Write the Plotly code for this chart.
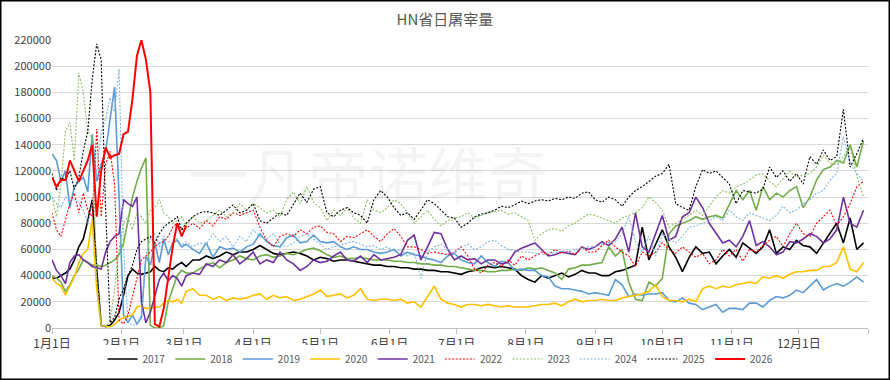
import plotly.graph_objects as go

# ---- x grid (day of year, 0 = 1月1日) ----
days_a = list(range(0, 61, 2))      # Jan-Feb, every 2 days
days_b = list(range(63, 364, 3))    # rest of year, every 3 days
days = days_a + days_b

tick_days = [0, 31, 59, 90, 120, 151, 181, 212, 243, 273, 304, 334, 365]
tick_labels = ["1月1日", "2月1日", "3月1日", "4月1日", "5月1日", "6月1日",
               "7月1日", "8月1日", "9月1日", "10月1日", "11月1日", "12月1日", ""]

y2017 = [38000, 38000, 40000, 42000, 45000, 52000, 62000, 68000, 82000, 98000,
         45000, 2000, 1000, 2000, 6000, 12000, 25000, 40000, 45000, 42000,
         41000, 42000, 43000, 47000, 44000, 43000, 46000, 45000, 48000, 50000,
         47000,
         52000, 52000, 55000, 53000, 55000, 58000, 56000, 58000, 58000, 60000,
         63000, 60000, 57000, 56000, 57000, 58000, 57000, 55000, 52000, 54000,
         53000, 51000, 52000, 52000, 51000, 50000, 49000, 48000, 48000, 47000,
         47000, 46000, 46000, 45000, 45000, 44000, 44000, 43000, 43000, 42000,
         41000, 43000, 44000, 46000, 47000, 46000, 47000, 46000, 45000, 40000,
         37000, 35000, 40000, 38000, 40000, 42000, 39000, 41000, 44000, 42000,
         42000, 40000, 40000, 43000, 44000, 46000, 48000, 77000, 52000, 64000,
         75000, 62000, 54000, 43000, 54000, 62000, 57000, 58000, 49000, 55000,
         60000, 54000, 65000, 61000, 57000, 62000, 75000, 57000, 62000, 60000,
         67000, 63000, 62000, 57000, 65000, 72000, 80000, 65000, 84000, 60000,
         65000]

y2018 = [40000, 38000, 35000, 28000, 33000, 40000, 45000, 52000, 50000, 48000,
         48000, 47000, 48000, 50000, 52000, 56000, 65000, 82000, 100000, 112000,
         122000, 130000, 2000, 0, 0, 2000, 20000, 30000, 40000, 44000,
         42000,
         42000, 45000, 48000, 50000, 46000, 50000, 52000, 55000, 53000, 52000,
         55000, 56000, 54000, 55000, 57000, 56000, 58000, 60000, 61000, 59000,
         56000, 54000, 55000, 53000, 53000, 54000, 53000, 52000, 52000, 52000,
         51000, 51000, 50000, 50000, 49000, 49000, 48000, 48000, 47000, 47000,
         46000, 45000, 44000, 44000, 43000, 43000, 44000, 44000, 45000, 44000,
         46000, 45000, 46000, 44000, 42000, 37000, 45000, 46000, 48000, 48000,
         49000, 50000, 62000, 55000, 60000, 35000, 22000, 21000, 35000, 32000,
         38000, 72000, 78000, 80000, 82000, 85000, 83000, 85000, 86000, 84000,
         95000, 105000, 98000, 105000, 90000, 108000, 98000, 103000, 100000, 105000,
         108000, 92000, 100000, 113000, 121000, 123000, 128000, 126000, 140000, 123000,
         143000]

y2019 = [133000, 128000, 112000, 120000, 92000, 108000, 112000, 115000, 104000, 148000,
         112000, 125000, 135000, 160000, 184000, 100000, 10000, 4000, 10000, 3000,
         8000, 55000, 48000, 65000, 50000, 68000, 56000, 65000, 67000, 62000,
         64000,
         60000, 57000, 65000, 54000, 62000, 60000, 61000, 58000, 62000, 64000,
         72000, 66000, 63000, 62000, 69000, 71000, 65000, 66000, 71000, 66000,
         65000, 66000, 62000, 60000, 62000, 60000, 60000, 58000, 57000, 58000,
         60000, 55000, 58000, 56000, 55000, 53000, 52000, 50000, 55000, 57000,
         52000, 50000, 49000, 55000, 50000, 47000, 51000, 50000, 44000, 45000,
         44000, 44000, 40000, 39000, 32000, 30000, 30000, 29000, 28000, 26000,
         27000, 26000, 25000, 37000, 33000, 24000, 26000, 25000, 26000, 26000,
         27000, 21000, 20000, 23000, 19000, 18000, 14000, 16000, 18000, 12000,
         15000, 15000, 14000, 19000, 19000, 16000, 21000, 24000, 23000, 25000,
         29000, 27000, 32000, 37000, 29000, 32000, 34000, 32000, 35000, 39000,
         35000]

y2020 = [38000, 34000, 32000, 25000, 32000, 39000, 50000, 57000, 60000, 83000,
         30000, 2000, 1000, 1000, 3000, 6000, 8000, 9000, 10000, 16000,
         17000, 15000, 15000, 16000, 16000, 19000, 21000, 20000, 22000, 19000,
         28000,
         30000, 25000, 25000, 22000, 24000, 21000, 23000, 22000, 23000, 25000,
         26000, 22000, 25000, 23000, 24000, 21000, 22000, 24000, 26000, 29000,
         24000, 25000, 26000, 23000, 25000, 30000, 22000, 21000, 22000, 22000,
         21000, 22000, 19000, 20000, 16000, 24000, 32000, 22000, 19000, 18000,
         16000, 18000, 18000, 17000, 18000, 17000, 16000, 17000, 16000, 16000,
         16000, 17000, 18000, 18000, 19000, 17000, 20000, 22000, 20000, 21000,
         21000, 22000, 21000, 21000, 23000, 24000, 25000, 26000, 28000, 33000,
         24000, 21000, 21000, 20000, 22000, 20000, 30000, 32000, 30000, 32000,
         31000, 33000, 34000, 35000, 34000, 39000, 38000, 40000, 38000, 41000,
         43000, 43000, 44000, 44000, 47000, 47000, 50000, 62000, 45000, 43000,
         50000]

y2021 = [52000, 44000, 40000, 34000, 50000, 55000, 56000, 52000, 50000, 47000,
         46000, 45000, 58000, 66000, 70000, 72000, 98000, 95000, 93000, 100000,
         20000, 4000, 12000, 25000, 37000, 42000, 36000, 40000, 38000, 32000,
         40000,
         42000, 41000, 49000, 47000, 52000, 50000, 56000, 49000, 53000, 58000,
         49000, 52000, 50000, 58000, 52000, 49000, 44000, 47000, 52000, 50000,
         51000, 55000, 58000, 52000, 51000, 55000, 50000, 56000, 52000, 53000,
         54000, 56000, 67000, 71000, 52000, 62000, 73000, 72000, 60000, 52000,
         55000, 52000, 53000, 49000, 52000, 52000, 49000, 50000, 58000, 61000,
         63000, 65000, 60000, 55000, 56000, 58000, 57000, 56000, 62000, 60000,
         62000, 66000, 63000, 68000, 77000, 58000, 88000, 62000, 58000, 72000,
         86000, 67000, 70000, 85000, 88000, 100000, 92000, 80000, 72000, 65000,
         67000, 62000, 70000, 82000, 63000, 66000, 62000, 56000, 58000, 66000,
         65000, 68000, 72000, 70000, 65000, 68000, 75000, 100000, 80000, 77000,
         90000]

y2022 = [88000, 75000, 70000, 82000, 95000, 103000, 88000, 103000, 90000, 85000,
         152000, 85000, 125000, 135000, 110000, 6000, 3000, 10000, 24000, 40000,
         52000, 55000, 58000, 62000, 65000, 66000, 70000, 77000, 80000, 75000,
         76000,
         80000, 76000, 82000, 78000, 85000, 83000, 88000, 86000, 88000, 90000,
         77000, 67000, 62000, 70000, 72000, 70000, 75000, 72000, 77000, 78000,
         73000, 72000, 66000, 70000, 69000, 72000, 75000, 70000, 66000, 72000,
         76000, 70000, 62000, 62000, 60000, 57000, 58000, 57000, 56000, 58000,
         62000, 55000, 45000, 42000, 48000, 50000, 47000, 52000, 48000, 55000,
         52000, 55000, 58000, 56000, 60000, 57000, 59000, 56000, 62000, 58000,
         58000, 63000, 67000, 62000, 58000, 55000, 47000, 58000, 55000, 58000,
         65000, 60000, 57000, 62000, 58000, 54000, 57000, 49000, 52000, 60000,
         55000, 60000, 51000, 60000, 58000, 63000, 67000, 70000, 62000, 72000,
         80000, 72000, 70000, 80000, 85000, 90000, 78000, 85000, 95000, 108000,
         112000]

y2023 = [100000, 85000, 110000, 150000, 157000, 128000, 195000, 180000, 150000, 145000,
         40000, 2000, 1000, 5000, 30000, 60000, 80000, 85000, 75000, 88000,
         85000, 80000, 90000, 92000, 98000, 88000, 85000, 80000, 82000, 85000,
         78000,
         85000, 80000, 82000, 86000, 90000, 85000, 88000, 95000, 90000, 95000,
         92000, 88000, 90000, 85000, 98000, 104000, 95000, 108000, 96000, 92000,
         82000, 90000, 86000, 92000, 84000, 80000, 98000, 90000, 88000, 92000,
         98000, 95000, 88000, 80000, 85000, 90000, 83000, 78000, 82000, 84000,
         85000, 88000, 84000, 86000, 88000, 89000, 90000, 87000, 88000, 85000,
         82000, 67000, 72000, 75000, 76000, 74000, 78000, 80000, 84000, 87000,
         86000, 84000, 82000, 80000, 84000, 86000, 88000, 92000, 100000, 96000,
         90000, 77000, 80000, 83000, 86000, 90000, 86000, 93000, 100000, 105000,
         103000, 108000, 110000, 113000, 117000, 118000, 112000, 108000, 114000, 120000,
         115000, 117000, 118000, 123000, 132000, 126000, 125000, 131000, 139000, 116000,
         100000]

y2024 = [100000, 95000, 92000, 100000, 96000, 98000, 96000, 90000, 80000, 95000,
         118000, 150000, 160000, 176000, 165000, 198000, 60000, 5000, 2000, 3000,
         10000, 55000, 68000, 72000, 62000, 70000, 66000, 64000, 68000, 63000,
         66000,
         62000, 65000, 64000, 72000, 66000, 70000, 62000, 70000, 66000, 75000,
         70000, 68000, 72000, 64000, 62000, 65000, 70000, 72000, 68000, 64000,
         60000, 62000, 63000, 65000, 66000, 64000, 62000, 63000, 60000, 62000,
         58000, 60000, 55000, 58000, 38000, 58000, 62000, 64000, 60000, 57000,
         62000, 64000, 60000, 62000, 66000, 67000, 63000, 60000, 59000, 58000,
         58000, 57000, 56000, 58000, 57000, 59000, 58000, 60000, 61000, 62000,
         62000, 64000, 65000, 66000, 72000, 85000, 66000, 58000, 70000, 55000,
         72000, 68000, 65000, 70000, 77000, 78000, 80000, 82000, 85000, 82000,
         90000, 85000, 82000, 88000, 86000, 84000, 82000, 86000, 93000, 88000,
         90000, 95000, 98000, 103000, 105000, 113000, 118000, 146000, 126000, 118000,
         112000]

y2025 = [118000, 105000, 115000, 113000, 120000, 106000, 115000, 135000, 150000, 190000,
         217000, 205000, 90000, 4000, 8000, 22000, 30000, 40000, 48000, 60000,
         66000, 68000, 70000, 65000, 72000, 77000, 80000, 82000, 85000, 75000,
         80000,
         85000, 88000, 89000, 88000, 86000, 90000, 94000, 88000, 90000, 95000,
         82000, 80000, 84000, 88000, 86000, 94000, 103000, 96000, 106000, 108000,
         88000, 85000, 90000, 92000, 88000, 86000, 80000, 98000, 105000, 100000,
         92000, 86000, 88000, 83000, 90000, 98000, 95000, 90000, 85000, 84000,
         77000, 80000, 85000, 87000, 88000, 90000, 93000, 92000, 94000, 97000,
         95000, 97000, 98000, 97000, 99000, 98000, 100000, 99000, 103000, 104000,
         98000, 96000, 100000, 98000, 93000, 100000, 105000, 108000, 112000, 116000,
         118000, 125000, 95000, 92000, 90000, 108000, 121000, 118000, 120000, 115000,
         110000, 95000, 105000, 104000, 103000, 106000, 123000, 115000, 120000, 112000,
         118000, 110000, 131000, 125000, 136000, 128000, 131000, 167000, 123000, 133000,
         145000]

y2026 = [115000, 108000, 113000, 113000, 128000, 120000, 112000, 120000, 128000, 140000,
         85000, 120000, 138000, 130000, 132000, 133000, 148000, 150000, 175000, 208000,
         220000, 205000, 180000, 3000, 1000, 15000, 40000, 62000, 80000, 70000,
         78000]

DOT = "2px,1.6px"
series = [
    ("2017", y2017, "#000000", "solid", 1.6),
    ("2018", y2018, "#70AD47", "solid", 1.6),
    ("2019", y2019, "#5B9BD5", "solid", 1.6),
    ("2020", y2020, "#FFC000", "solid", 1.6),
    ("2021", y2021, "#7030A0", "solid", 1.6),
    ("2022", y2022, "#FF0000", DOT, 1.1),
    ("2023", y2023, "#8DBF62", DOT, 1.1),
    ("2024", y2024, "#7FB5E3", DOT, 1.1),
    ("2025", y2025, "#000000", DOT, 1.1),
    ("2026", y2026, "#FF0000", "solid", 2.0),
]

fig = go.Figure()
for name, vals, color, dash, width in series:
    fig.add_trace(go.Scatter(
        x=days[:len(vals)], y=vals, name=name, mode="lines",
        line=dict(color=color, dash=dash, width=width),
    ))

W, H = 890, 380
ml, mr, mt, mb = 52, 22, 40, 52
pw, ph = W - ml - mr, H - mt - mb

fig.update_layout(
    width=W, height=H,
    margin=dict(l=ml, r=mr, t=mt, b=mb, autoexpand=False),
    paper_bgcolor="white", plot_bgcolor="white",
    font=dict(family="Noto Sans CJK SC, sans-serif", size=11, color="#595959"),
    title=dict(text="HN省日屠宰量", x=0.5, xref="container", xanchor="center",
               y=1 - 20 / H, yref="container", yanchor="middle",
               font=dict(size=15, color="#595959"), automargin=False),
    xaxis=dict(range=[0, 365], tickvals=tick_days, ticktext=tick_labels,
               showgrid=False, zeroline=False, showline=True, linecolor="#bfbfbf",
               ticks="outside", ticklen=5, tickcolor="#bfbfbf",
               tickfont=dict(size=12, color="#404040"), automargin=False),
    yaxis=dict(range=[0, 220000], dtick=20000, tickformat="d",
               showgrid=True, gridcolor="#d9d9d9", gridwidth=1,
               zeroline=False, showline=False, ticks="",
               tickfont=dict(size=11, color="#404040"), automargin=False),
    legend=dict(orientation="h", xref="container", yref="container",
                x=0.495, xanchor="center", y=1 - 359 / H, yanchor="middle",
                font=dict(size=10, color="#595959"), itemwidth=30,
                tracegroupgap=0),
    showlegend=True,
)

fig.add_annotation(text="一凡帝诺维奇", xref="paper", yref="paper",
                   x=(368 - ml) / pw, y=1 - (126 - mt) / ph,
                   showarrow=False, font=dict(size=60, color="rgba(0,0,0,0.045)"))

fig.add_shape(type="rect", xref="paper", yref="paper",
              x0=-(ml - 0.75) / pw, x1=1 + (mr - 0.75) / pw,
              y0=-(mb - 0.75) / ph, y1=1 + (mt - 0.75) / ph,
              line=dict(color="#000000", width=1.5), fillcolor="rgba(0,0,0,0)")

fig.write_html(
    "out.html",
    config={"displayModeBar": False},
    post_script="document.body.style.margin='0';document.body.style.overflow='hidden';",
)
